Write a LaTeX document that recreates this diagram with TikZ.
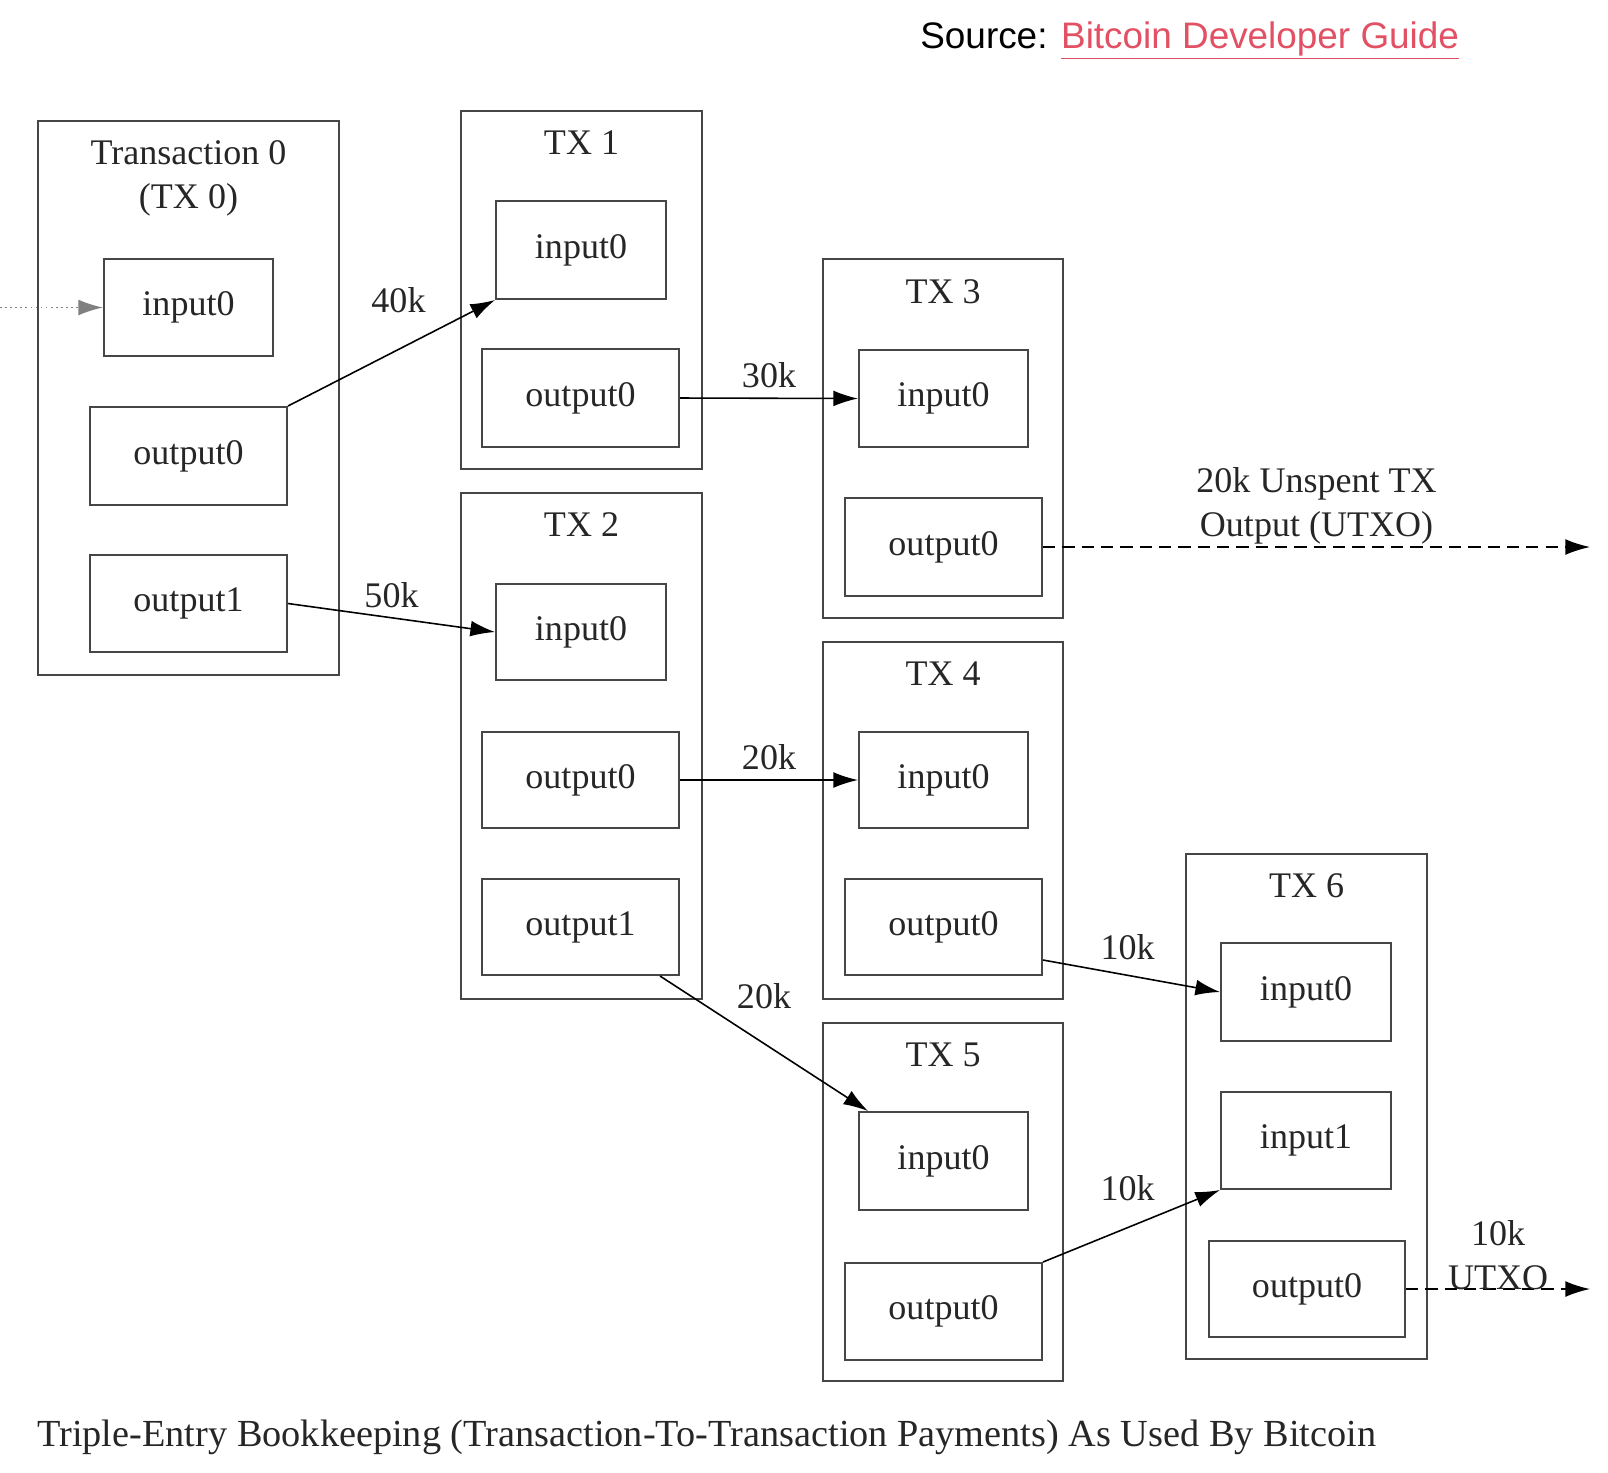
\documentclass[tikz,border=0pt]{standalone}
\usepackage{fontspec}
\setmainfont{Liberation Serif}
\newfontfamily\srcfont{Liberation Sans}
\usetikzlibrary{arrows.meta,positioning}
\definecolor{lnk}{RGB}{226,80,100}
\definecolor{bx}{RGB}{70,70,70}
\begin{document}
\begin{tikzpicture}[x={(0.02cm,0)},y={(0,-0.02cm)},
  box/.style={draw=bx,line width=1.3pt},
  txt/.style={font=\fontsize{20.5}{25}\selectfont,text=black!85,align=center},
  arr/.style={line width=0.9pt,-{Latex[length=14pt,width=9pt]}},
  dsh/.style={dash pattern=on 7pt off 4pt},
  lbl/.style={font=\fontsize{20.5}{25}\selectfont,text=black!85,align=center}]
\useasboundingbox (0,0) rectangle (1608,1472);
\newcommand{\bxn}[5]{\node[box,txt,minimum width=#4*0.02cm-1.3pt,minimum height=#5*0.02cm-1.3pt] (#1) at (#2,#3) {};}
\newcommand{\inner}[6]{\node[box,txt,minimum width=#4*0.02cm-1.3pt,minimum height=#5*0.02cm-1.3pt] (#1) at (#2,#3) {#6};}
% outer boxes
\bxn{t0}{188.5}{398}{303}{556}
\bxn{t1}{581.5}{290}{243}{360}
\bxn{t2}{581.5}{746}{243}{508}
\bxn{t3}{943}{438.5}{242}{361}
\bxn{t4}{943}{820.5}{242}{359}
\bxn{t5}{943}{1202}{242}{360}
\bxn{t6}{1306.5}{1106.5}{243}{507}
% titles
\node[txt] (t0t) at (188.5,178) {Transaction 0\\(TX 0)};
\node[txt] (t1t) at (581.5,143) {TX 1};
\node[txt] (t2t) at (581.5,525) {TX 2};
\node[txt] (t3t) at (943,292) {TX 3};
\node[txt] (t4t) at (943,674) {TX 4};
\node[txt] (t5t) at (943,1055) {TX 5};
\node[txt] (t6t) at (1306.5,886) {TX 6};
% inner
\inner{a0}{188.5}{307.5}{171}{99}{input0}
\inner{a1}{188.5}{456}{199}{100}{output0}
\inner{a2}{188.5}{603.5}{199}{99}{output1}
\inner{b0}{581}{250}{172}{100}{input0}
\inner{b1}{580.5}{398}{199}{100}{output0}
\inner{c0}{581}{632}{172}{98}{input0}
\inner{c1}{580.5}{780}{199}{98}{output0}
\inner{c2}{580.5}{927}{199}{98}{output1}
\inner{d0}{943.5}{398.5}{171}{99}{input0}
\inner{d1}{943.5}{547}{199}{100}{output0}
\inner{e0}{943.5}{780}{171}{98}{input0}
\inner{e1}{943.5}{927}{199}{98}{output0}
\inner{f0}{943.5}{1161}{171}{100}{input0}
\inner{f1}{943.5}{1311.5}{199}{99}{output0}
\inner{g0}{1306}{992}{172}{100}{input0}
\inner{g1}{1306}{1140.5}{172}{99}{input1}
\inner{g2}{1307}{1289}{198}{98}{output0}
% connectors
\coordinate (s0) at (0,307.5);
\coordinate (u1) at (1590,547);
\coordinate (u2) at (1590,1289);
\draw[arr,dotted,draw=gray] (s0) -- (a0.west);
\draw[arr] (a1.north east) -- (b0.south west) node[lbl,midway,xshift=0.14cm,yshift=1.06cm] {40k};
\draw[arr] (a2.east) -- (c0.west) node[lbl,midway,above=2pt] {50k};
\draw[arr] (b1.east) -- (d0.west) node[lbl,midway,above=2pt] {30k};
\draw[arr,dsh] (d1.east) -- (u1) node[lbl,pos=0.5,above=-2pt] {20k Unspent TX\\Output (UTXO)};
\draw[arr] (c1.east) -- (e0.west) node[lbl,midway,above=2pt] {20k};
\draw[arr] ([xshift=-0.4cm]c2.south east) -- ([xshift=0.2cm]f0.north west) node[lbl,midway,yshift=0.94cm] {20k};
\draw[arr] ([yshift=0.32cm]e1.south east) -- (g0.west) node[lbl,midway,xshift=-0.08cm,yshift=0.58cm] {10k};
\draw[arr] (f1.north east) -- (g1.south west) node[lbl,midway,xshift=-0.08cm,yshift=0.76cm] {10k};
\draw[arr,dsh] (g2.east) -- (u2) node[lbl,pos=0.5,above=-4pt] {10k\\UTXO};
% source and caption
\node[anchor=base west,font=\srcfont\fontsize{21}{25}\selectfont,inner sep=0] (src) at (920,48) {Source: \textcolor{lnk}{\underline{Bitcoin Developer Guide}}};
\node[anchor=base west,font=\fontsize{21.8}{26}\selectfont,text=black!85,inner sep=0] (cap) at (37,1446) {Triple-Entry Bookkeeping (Transaction-To-Transaction Payments) As Used By Bitcoin};
\end{tikzpicture}
\end{document}
